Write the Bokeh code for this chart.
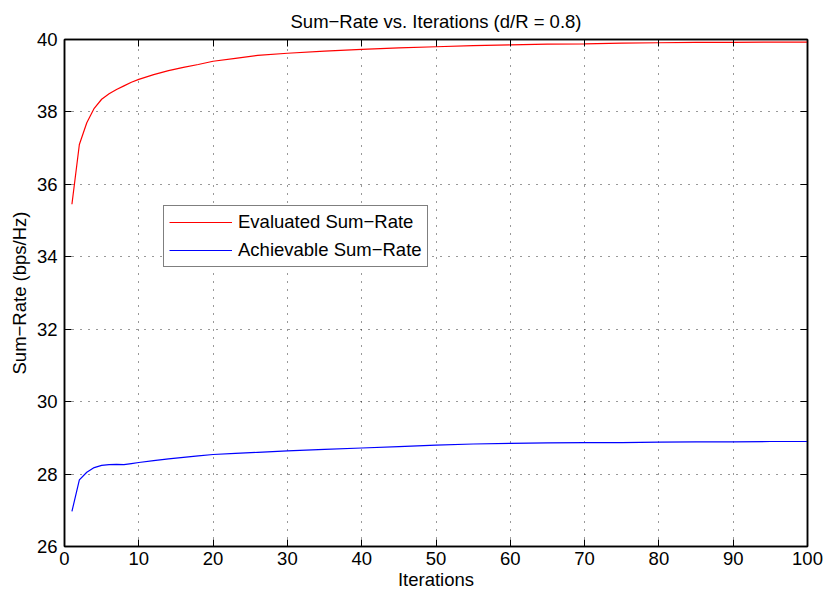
from bokeh.plotting import figure
from bokeh.models import Range1d, LinearAxis, FixedTicker, Legend, LegendItem
from bokeh.embed import file_html
from bokeh.resources import INLINE

# ---- data ----
red_iter = [1, 2, 3, 4, 5, 6, 7, 8, 9, 10, 12, 14, 16, 18, 20, 23, 26, 30, 35, 40,
            45, 50, 55, 60, 65, 70, 75, 80, 85, 90, 95, 100]
red_vals = [35.45, 37.10, 37.70, 38.10, 38.35, 38.50, 38.62, 38.72, 38.82, 38.90,
            39.03, 39.14, 39.23, 39.31, 39.40, 39.48, 39.56, 39.62, 39.68, 39.73,
            39.77, 39.80, 39.83, 39.85, 39.87, 39.88, 39.90, 39.91, 39.92, 39.92,
            39.93, 39.93]
blue_iter = [1, 2, 3, 4, 5, 6, 7, 8, 9, 10, 12, 14, 16, 18, 20, 23, 26, 30, 35, 40,
             45, 50, 55, 60, 65, 70, 75, 80, 85, 90, 95, 100]
blue_vals = [26.97, 27.84, 28.05, 28.18, 28.24, 28.26, 28.27, 28.26, 28.29, 28.32,
             28.37, 28.42, 28.46, 28.50, 28.54, 28.57, 28.60, 28.64, 28.68, 28.72,
             28.76, 28.80, 28.83, 28.85, 28.86, 28.87, 28.87, 28.88, 28.89, 28.89,
             28.90, 28.90]
x_ticks = [0, 10, 20, 30, 40, 50, 60, 70, 80, 90, 100]
y_ticks = [26, 28, 30, 32, 34, 36, 38, 40]
series_names = ["Evaluated Sum\u2212Rate", "Achievable Sum\u2212Rate"]
title_text = "Sum\u2212Rate vs. Iterations (d/R = 0.8)"
x_label = "Iterations"
y_label = "Sum\u2212Rate (bps/Hz)"

FONT = "Liberation Sans"
FS = "18.5px"

p = figure(width=826, height=594, output_backend="svg", toolbar_location=None,
           x_range=Range1d(0, 100), y_range=Range1d(26, 40),
           min_border_left=64, min_border_right=19, min_border_top=39, min_border_bottom=48,
           background_fill_color="white", border_fill_color="white")

p.title.text = title_text
p.title.align = "center"
p.title.text_font = FONT
p.title.text_font_size = FS
p.title.text_font_style = "normal"
p.title.text_color = "black"
p.title.standoff = 16

def style_axis(ax, ticks, labels=True):
    ax.axis_line_color = "black"
    ax.axis_line_width = 1.5
    ax.major_tick_line_color = "black"
    ax.major_tick_line_width = 1
    ax.major_tick_in = 7
    ax.major_tick_out = 0
    ax.minor_tick_line_color = None
    if labels:
        ax.major_label_text_font = FONT
        ax.major_label_text_font_size = FS
        ax.major_label_text_color = "black"
        ax.axis_label_text_font = FONT
        ax.axis_label_text_font_size = FS
        ax.axis_label_text_font_style = "normal"
        ax.axis_label_text_color = "black"
    else:
        ax.major_label_overrides = {t: "" for t in ticks}
        ax.major_label_text_font_size = "1px"
        ax.major_label_standoff = 0

p.xaxis.ticker = FixedTicker(ticks=x_ticks)
p.yaxis.ticker = FixedTicker(ticks=y_ticks)
p.xaxis.axis_label = x_label
p.yaxis.axis_label = y_label
style_axis(p.xaxis[0], x_ticks)
style_axis(p.yaxis[0], y_ticks)
p.xaxis.major_label_standoff = 5
p.xaxis.axis_label_standoff = 1
p.yaxis.major_label_standoff = 7
p.yaxis.axis_label_standoff = 4

top = LinearAxis(ticker=FixedTicker(ticks=x_ticks))
right = LinearAxis(ticker=FixedTicker(ticks=y_ticks))
style_axis(top, x_ticks, labels=False)
style_axis(right, y_ticks, labels=False)
p.add_layout(top, "above")
p.add_layout(right, "right")

p.xgrid.ticker = FixedTicker(ticks=x_ticks)
p.ygrid.ticker = FixedTicker(ticks=y_ticks)
for g in (p.xgrid, p.ygrid):
    g.grid_line_color = "black"
    g.grid_line_alpha = 0.8
    g.grid_line_dash = "1 7"
    g.grid_line_width = 1

p.outline_line_color = "black"
p.outline_line_width = 1.5

r1 = p.line(red_iter, red_vals, line_color="#ff0000", line_width=1.2)
r2 = p.line(blue_iter, blue_vals, line_color="#0000ff", line_width=1.2)

legend = Legend(items=[LegendItem(label=series_names[0], renderers=[r1]),
                       LegendItem(label=series_names[1], renderers=[r2])],
                location=(99, 279))
legend.label_text_font = FONT
legend.label_text_font_size = FS
legend.label_text_color = "black"
legend.border_line_color = "black"
legend.border_line_width = 1
legend.background_fill_color = "white"
legend.background_fill_alpha = 1
legend.padding = 5
legend.spacing = 6
legend.margin = 0
legend.glyph_width = 63
legend.glyph_height = 20
legend.label_height = 20
legend.label_standoff = 6
p.add_layout(legend, "center")

open("out.html", "w").write(file_html(p, INLINE))
